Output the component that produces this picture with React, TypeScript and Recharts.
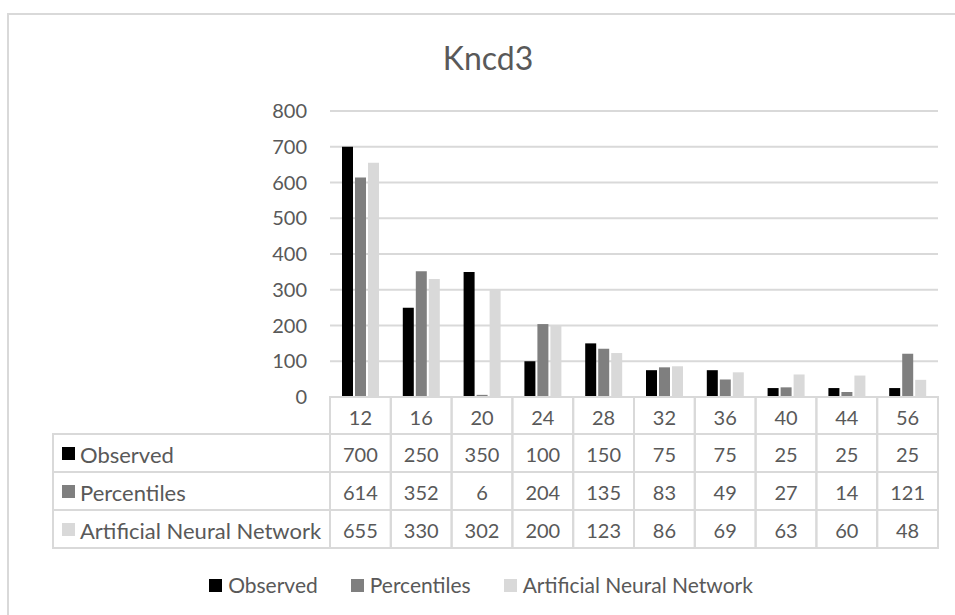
import React from "react";
import { BarChart, Bar, XAxis, YAxis, CartesianGrid } from "recharts";

// values (data table under the chart)
const CATEGORIES = ["12", "16", "20", "24", "28", "32", "36", "40", "44", "56"];
const OBSERVED = [700, 250, 350, 100, 150, 75, 75, 25, 25, 25];
const PERCENTILES = [614, 352, 6, 204, 135, 83, 49, 27, 14, 121];
const ANN = [655, 330, 302, 200, 123, 86, 69, 63, 60, 48];
const Y_TICKS = [0, 100, 200, 300, 400, 500, 600, 700, 800];

const SERIES = [
  { key: "observed", name: "Observed", color: "#000000" },
  { key: "percentiles", name: "Percentiles", color: "#7f7f7f" },
  { key: "ann", name: "Artificial Neural Network", color: "#d9d9d9" },
];

const data = CATEGORIES.map((cat, i) => ({
  cat,
  observed: OBSERVED[i],
  percentiles: PERCENTILES[i],
  ann: ANN[i],
}));

const FONT = "Lato, 'Open Sans', sans-serif";
const TEXT = "#595959";
const BORDER = "#d9d9d9";
const HEADER_H = 37;
const ROW_H = 38;
const TABLE_LEFT = 53;

// x axis tick that draws one column of the data table
const TableTick = (props: any) => {
  const { x, y, payload, width, visibleTicksCount } = props;
  const cw = payload.offset ? payload.offset * 2 : width / visibleTicksCount;
  const left = x - cw / 2;
  const idx = CATEGORIES.indexOf(String(payload.value));
  const row: any = data[idx];

  return (
    <g fontFamily={FONT}>
      <rect x={left} y={y} width={cw} height={HEADER_H} fill="none" stroke={BORDER} strokeWidth={2} />
      <text x={x} y={y + HEADER_H / 2 + 1} textAnchor="middle" dominantBaseline="central" fontSize={20} fill={TEXT}>
        {payload.value}
      </text>
      {SERIES.map((s, r) => {
        const ry = y + HEADER_H + r * ROW_H;
        return (
          <g key={s.key}>
            <rect x={left} y={ry} width={cw} height={ROW_H} fill="none" stroke={BORDER} strokeWidth={2} />
            <text x={x} y={ry + ROW_H / 2 + 1} textAnchor="middle" dominantBaseline="central" fontSize={20} fill={TEXT}>
              {row[s.key]}
            </text>
            {idx === 0 && (
              <g>
                <rect x={TABLE_LEFT} y={ry} width={left - TABLE_LEFT} height={ROW_H} fill="none" stroke={BORDER} strokeWidth={2} />
                <rect x={62} y={ry + ROW_H / 2 - 6} width={13} height={13} fill={s.color} />
                <text x={80} y={ry + ROW_H / 2 + 1} dominantBaseline="central" fontSize={22} fill={TEXT}>
                  {s.name}
                </text>
              </g>
            )}
          </g>
        );
      })}
    </g>
  );
};

export default function App() {
  return (
    <div
      style={{
        position: "absolute",
        left: 0,
        top: 0,
        width: 955,
        height: 615,
        overflow: "hidden",
        background: "#fff",
        fontFamily: FONT,
      }}
    >
      <div
        style={{
          position: "absolute",
          left: 7,
          top: 13,
          width: 1000,
          height: 700,
          border: `2px solid ${BORDER}`,
        }}
      />
      <div
        style={{
          position: "absolute",
          left: 288,
          width: 400,
          top: 38,
          textAlign: "center",
          fontSize: 32,
          lineHeight: "40px",
          color: TEXT,
        }}
      >
        Kncd3
      </div>

      <div style={{ position: "absolute", left: 0, top: 0 }}>
        <BarChart
          width={955}
          height={615}
          data={data}
          margin={{ top: 111, right: 17, bottom: 58, left: 270 }}
          barSize={11}
          barGap={2}
        >
          <CartesianGrid vertical={false} stroke={BORDER} strokeWidth={2} />
          <YAxis
            width={60}
            domain={[0, 800]}
            ticks={Y_TICKS}
            axisLine={false}
            tickLine={false}
            tickSize={0}
            tickMargin={23}
            tick={{ fill: TEXT, fontSize: 20, fontFamily: FONT }}
          />
          <XAxis
            dataKey="cat"
            height={160}
            interval={0}
            axisLine={false}
            tickLine={false}
            tickSize={0}
            tickMargin={0}
            tick={<TableTick />}
          />
          {SERIES.map((s) => (
            <Bar key={s.key} dataKey={s.key} name={s.name} fill={s.color} isAnimationActive={false} />
          ))}
        </BarChart>
      </div>

      <div
        style={{
          position: "absolute",
          left: 0,
          width: 962,
          top: 572,
          display: "flex",
          justifyContent: "center",
          gap: 33,
          fontSize: 21,
          lineHeight: "26px",
          color: TEXT,
        }}
      >
        {SERIES.map((s) => (
          <div key={s.key} style={{ display: "flex", alignItems: "center" }}>
            <span style={{ display: "inline-block", width: 13, height: 13, background: s.color, marginRight: 6 }} />
            <span>{s.name}</span>
          </div>
        ))}
      </div>
    </div>
  );
}
